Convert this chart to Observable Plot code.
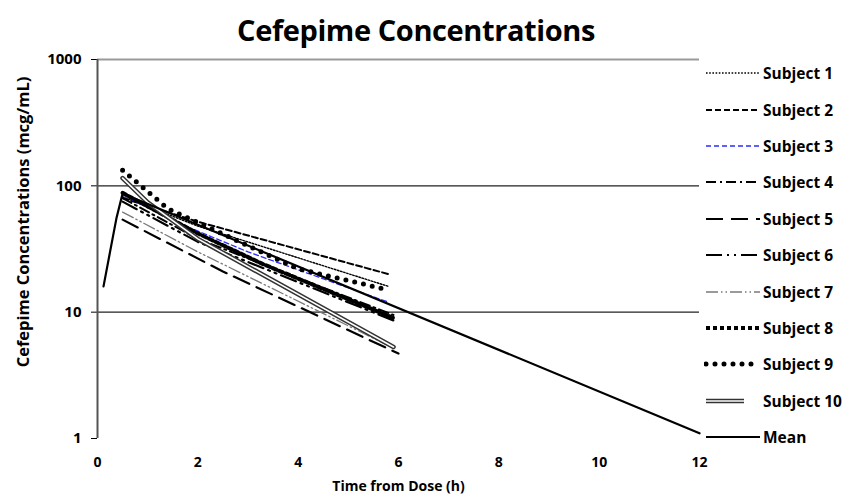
<!DOCTYPE html>
<html>
<head>
<meta charset="utf-8">
<script src="https://cdn.jsdelivr.net/npm/d3@7"></script>
<script src="https://cdn.jsdelivr.net/npm/@observablehq/plot@0.6"></script>
<style>
  html, body { margin: 0; padding: 0; background: #fff; }
  #wrap { position: relative; width: 860px; height: 501px; overflow: hidden; font-family: "Open Sans", sans-serif; }
  #title { height: 48px; box-sizing: border-box; padding-top: 6px; padding-right: 28px; text-align: center; font-weight: 700; font-size: 29px; line-height: 48px; letter-spacing: -0.4px; color: #000; }
  #chart svg { display: block; }
  #ylabel { position: absolute; left: 22px; top: 222px; transform: translate(-50%, -50%) rotate(-90deg); white-space: nowrap; font-weight: 700; font-size: 16.5px; color: #000; }
  #legend { position: absolute; left: 704px; top: 55px; font-weight: 700; font-size: 15.5px; color: #000; }
  .row { height: 36.4px; display: flex; align-items: center; }
  .row svg { display: block; margin-right: 3px; }
</style>
</head>
<body>
<div id="wrap">
  <div id="title">Cefepime Concentrations</div>
  <div id="chart"></div>
  <div id="ylabel">Cefepime Concentrations (mcg/mL)</div>
  <div id="legend"></div>
</div>
<script>
// ---- data ----
const subjectNames = ["Subject 1","Subject 2","Subject 3","Subject 4","Subject 5","Subject 6","Subject 7","Subject 8","Subject 9","Subject 10"];
const subjectTimes = [
  [0.5, 2, 5.8],
  [0.5, 2, 5.8],
  [0.5, 1.5, 3, 5.8],
  [0.5, 2, 5.9],
  [0.5, 2.5, 6],
  [0.5, 2, 5.9],
  [0.5, 2, 5.9],
  [0.5, 2, 3.3, 5.9],
  [0.5, 1.4, 4, 5.8],
  [0.5, 1, 2, 5.9]
];
const subjectConcs = [
  [82, 48, 16],
  [80, 52, 20],
  [85, 53, 30, 12],
  [80, 38, 9.5],
  [54, 21, 4.7],
  [75, 36, 8.6],
  [62, 30, 5.2],
  [88, 42, 24, 9],
  [133, 66, 22, 15],
  [115, 74, 38, 5.3]
];
const meanTimes = [0.12, 0.25, 0.38, 0.5, 12];
const meanConcs = [16, 30, 56, 87, 1.1];
const xTicks = [0, 2, 4, 6, 8, 10, 12];
const yTicks = [1, 10, 100, 1000];
const darkGrid = [10, 100];
const lightGrid = [1000];

// ---- styles ----
const styles = [
  {stroke: "#000", strokeWidth: 1.4, strokeDasharray: "1.6 1.6"},
  {stroke: "#000", strokeWidth: 2, strokeDasharray: "6 3"},
  {stroke: "#2b2bff", strokeWidth: 1.3, strokeDasharray: "5 3"},
  {stroke: "#000", strokeWidth: 2, strokeDasharray: "10 4 2 4"},
  {stroke: "#000", strokeWidth: 2.2, strokeDasharray: "17 8"},
  {stroke: "#000", strokeWidth: 2.2, strokeDasharray: "16 5 2 5 2 5"},
  {stroke: "#7a7a7a", strokeWidth: 1.3, strokeDasharray: "12 3 1.5 3 1.5 3"},
  {stroke: "#000", strokeWidth: 4, strokeDasharray: "4 3"},
  {stroke: "#000", strokeWidth: 5, strokeDasharray: "0 9", strokeLinecap: "round"},
  {double: true}
];
const meanStyle = {stroke: "#000", strokeWidth: 2.2};

const rows = subjectNames.flatMap((name, i) =>
  subjectTimes[i].map((t, j) => ({name, t, c: subjectConcs[i][j]})));
const meanRows = meanTimes.map((t, j) => ({name: "Mean", t, c: meanConcs[j]}));

const lineMarks = [];
subjectNames.forEach((name, i) => {
  const data = rows.filter(d => d.name === name);
  const s = styles[i];
  if (s.double) {
    lineMarks.push(Plot.lineY(data, {x: "t", y: "c", stroke: "#333", strokeWidth: 4.6}));
    lineMarks.push(Plot.lineY(data, {x: "t", y: "c", stroke: "#fff", strokeWidth: 1.6}));
  } else {
    lineMarks.push(Plot.lineY(data, {x: "t", y: "c", ...s}));
  }
});
lineMarks.push(Plot.lineY(meanRows, {x: "t", y: "c", ...meanStyle}));

const chart = Plot.plot({
  width: 860,
  height: 453,
  marginLeft: 97,
  marginRight: 161,
  marginTop: 11,
  marginBottom: 63,
  style: {fontFamily: "Open Sans, sans-serif", fontWeight: "bold", fontSize: "15px", color: "#000", background: "#fff"},
  x: {domain: [0, 12], ticks: xTicks, tickSize: 0, tickPadding: 19, label: null},
  y: {type: "log", domain: [1, 1000], ticks: yTicks, tickFormat: d => String(d), tickSize: 6, tickPadding: 10, label: null},
  marks: [
    Plot.ruleY(lightGrid, {stroke: "#9a9a9a", strokeWidth: 2.2}),
    Plot.ruleY(darkGrid, {stroke: "#222", strokeWidth: 1.4}),
    Plot.ruleX([0], {stroke: "#555", strokeWidth: 2}),
    Plot.axisX({ticks: xTicks, tickSize: 0, tickPadding: 19, label: "Time from Dose (h)", labelAnchor: "center", labelOffset: 52, labelArrow: "none", fontSize: 14}),
    ...lineMarks
  ]
});
document.getElementById("chart").appendChild(chart);

// ---- legend ----
const legend = document.getElementById("legend");
const legendNames = [...subjectNames, "Mean"];
const legendStyles = [...styles, meanStyle];
const ns = "http://www.w3.org/2000/svg";
legendNames.forEach((name, i) => {
  const row = document.createElement("div");
  row.className = "row";
  const svg = document.createElementNS(ns, "svg");
  svg.setAttribute("width", 56);
  svg.setAttribute("height", 12);
  const s = legendStyles[i];
  const mk = (stroke, w, dash, cap) => {
    const l = document.createElementNS(ns, "line");
    l.setAttribute("x1", 2); l.setAttribute("x2", s.double ? 40 : 56);
    l.setAttribute("y1", 6); l.setAttribute("y2", 6);
    l.setAttribute("stroke", stroke);
    l.setAttribute("stroke-width", w);
    if (dash) l.setAttribute("stroke-dasharray", dash);
    if (cap) l.setAttribute("stroke-linecap", cap);
    svg.appendChild(l);
  };
  if (s.double) {
    mk("#333", 4.6); mk("#fff", 1.6);
  } else {
    mk(s.stroke, s.strokeWidth, s.strokeDasharray, s.strokeLinecap);
  }
  row.appendChild(svg);
  const span = document.createElement("span");
  span.textContent = name;
  row.appendChild(span);
  legend.appendChild(row);
});
</script>
</body>
</html>
